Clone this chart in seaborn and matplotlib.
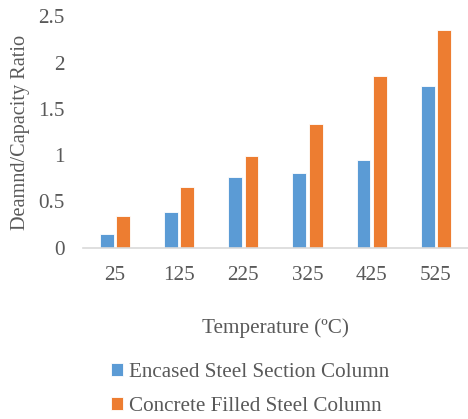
import matplotlib
matplotlib.use("Agg")
import matplotlib.pyplot as plt
import seaborn as sns
import pandas as pd

temperatures = ["25", "125", "225", "325", "425", "525"]
encased = [0.15, 0.38, 0.76, 0.81, 0.95, 1.75]
cfst = [0.34, 0.65, 0.99, 1.34, 1.85, 2.35]
series_names = ["Encased Steel Section Column", "Concrete Filled Steel Column"]
colors = ["#5B9BD5", "#ED7D31"]

df = pd.DataFrame({
    "Temperature": temperatures * 2,
    "Ratio": encased + cfst,
    "Series": [series_names[0]] * len(temperatures) + [series_names[1]] * len(temperatures),
})

sns.set_theme(style="white")
plt.rcParams["font.family"] = ["Liberation Serif", "DejaVu Serif"]
grey = "#595959"
fs = 15.2

fig = plt.figure(figsize=(4.68, 4.19), dpi=100)
ax = fig.add_axes([0.177, 0.409, 0.823, 0.552])

sns.barplot(data=df, x="Temperature", y="Ratio", hue="Series", order=temperatures,
            hue_order=series_names, palette=colors, width=0.51, gap=0.15,
            edgecolor="white", linewidth=0.6, saturation=1, ax=ax, legend=True)

ax.set_ylim(0, 2.5)
ax.set_xlim(-0.5, 5.5)
ax.set_yticks([0, 0.5, 1, 1.5, 2, 2.5])
ax.set_yticklabels(["0", "0.5", "1", "1.5", "2", "2.5"])
ax.tick_params(axis="both", length=0, labelsize=fs, labelcolor=grey)
ax.tick_params(axis="x", pad=13)
ax.tick_params(axis="y", pad=13)
for s in ["top", "right", "left"]:
    ax.spines[s].set_visible(False)
ax.spines["bottom"].set_color("#d9d9d9")
ax.spines["bottom"].set_linewidth(1.2)

ax.set_ylabel("Deamnd/Capacity Ratio", fontsize=14.6, color=grey, labelpad=6)
ax.set_xlabel("Temperature (ºC)", fontsize=fs, color=grey, labelpad=24)

handles, labels = ax.get_legend_handles_labels()
ax.get_legend().remove()
leg = fig.legend(handles, labels, loc="upper left", frameon=False, fontsize=fs,
                 labelcolor=grey, handlelength=0.55, handleheight=0.55,
                 handletextpad=0.3, labelspacing=0.72, borderaxespad=0, borderpad=0)
leg.set_bbox_to_anchor((0.238, 1 - 363 / 419), transform=fig.transFigure)

fig.savefig("out.png", dpi=100)
